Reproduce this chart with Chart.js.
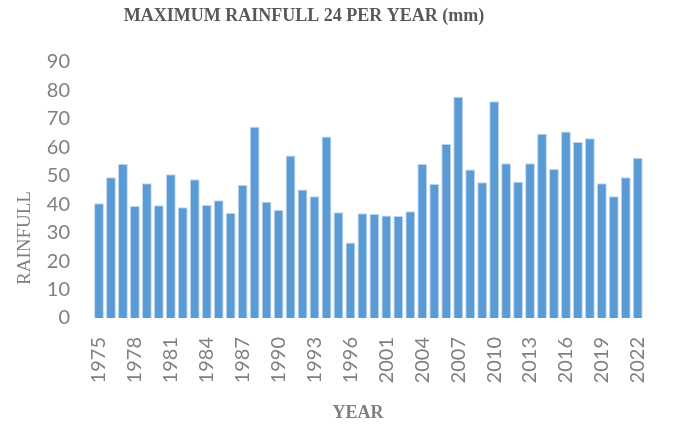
<!DOCTYPE html>
<html>
<head>
<meta charset="utf-8">
<title>Maximum Rainfall 24 per Year</title>
<script src="https://cdn.jsdelivr.net/npm/chart.js@4/dist/chart.umd.min.js"></script>
<style>
  html, body { margin: 0; padding: 0; background: #ffffff; }
  #wrap { position: relative; width: 673px; height: 426px; }
</style>
</head>
<body>
<div id="wrap"><canvas id="chart" width="673" height="426"></canvas></div>
<script>
// Yearly maximum 24-hour rainfall (mm)
const years = [
  1975, 1976, 1977, 1978, 1979, 1980, 1981, 1982, 1983, 1984, 1985,
  1986, 1987, 1988, 1989, 1990, 1991, 1992, 1993, 1994, 1995, 1996,
  1997, 1998,
  2001, 2002, 2003, 2004, 2005, 2006, 2007, 2008, 2009, 2010, 2011,
  2012, 2013, 2014, 2015, 2016, 2017, 2018, 2019, 2020, 2021, 2022
];
const rainfall = [
  40.3, 49.5, 54.1, 39.4, 47.4, 39.6, 50.5, 38.9, 48.8, 39.7, 41.4,
  36.9, 46.8, 67.2, 40.9, 38.0, 57.1, 45.2, 42.8, 63.8, 37.2, 26.5,
  36.8, 36.6,
  36.0, 35.9, 37.5, 54.1, 47.1, 61.2, 77.8, 52.2, 47.7, 76.2, 54.4,
  47.9, 54.4, 64.8, 52.4, 65.6, 61.9, 63.2, 47.4, 42.8, 49.5, 56.3
];
const yTicks = [0, 10, 20, 30, 40, 50, 60, 70, 80, 90];
const chartTitle = 'MAXIMUM RAINFULL 24 PER YEAR (mm)';
const xTitle = 'YEAR';
const yTitle = 'RAINFULL';

// Draws the chart heading and both axis captions as canvas text
const captions = {
  id: 'captions',
  afterDraw(chart) {
    const ctx = chart.ctx;
    ctx.save();
    ctx.textAlign = 'center';
    ctx.textBaseline = 'middle';

    ctx.fillStyle = '#595959';
    ctx.font = 'bold 18px "Liberation Serif", "Times New Roman", serif';
    ctx.fillText(chartTitle, 304, 16);

    ctx.fillStyle = '#7f7f7f';
    ctx.font = 'bold 18px "Liberation Serif", "Times New Roman", serif';
    ctx.fillText(xTitle, 358, 413);

    ctx.translate(25, 238);
    ctx.rotate(-Math.PI / 2);
    ctx.font = '19px "Liberation Serif", "Times New Roman", serif';
    ctx.fillText(yTitle, 0, 0);
    ctx.restore();
  }
};

new Chart(document.getElementById('chart'), {
  type: 'bar',
  data: {
    labels: years.map(String),
    datasets: [{
      data: rainfall,
      backgroundColor: '#5b9bd5',
      borderColor: 'rgba(180, 210, 238, 0.9)',
      borderWidth: 1,
      barPercentage: 0.82,
      categoryPercentage: 1.0
    }]
  },
  options: {
    responsive: false,
    animation: false,
    devicePixelRatio: 1,
    layout: { padding: { left: 0, right: 20, top: 62, bottom: 0 } },
    plugins: {
      legend: { display: false },
      title: { display: false },
      tooltip: { enabled: false }
    },
    scales: {
      x: {
        grid: { display: false },
        border: { display: false },
        afterFit(scale) { scale.height = 108; },
        ticks: {
          autoSkip: false,
          minRotation: 90,
          maxRotation: 90,
          padding: 11,
          color: '#808080',
          font: { family: 'Lato, "Open Sans", sans-serif', size: 20 },
          callback(value, index) {
            return index % 3 === 0 ? this.getLabelForValue(value) : '';
          }
        }
      },
      y: {
        min: yTicks[0],
        max: yTicks[yTicks.length - 1],
        grid: { display: false },
        border: { display: false },
        afterFit(scale) { scale.width = 93; },
        afterBuildTicks(scale) { scale.ticks = yTicks.map(v => ({ value: v })); },
        ticks: {
          padding: 15,
          color: '#808080',
          font: { family: 'Lato, "Open Sans", sans-serif', size: 20 }
        }
      }
    }
  },
  plugins: [captions]
});
</script>
</body>
</html>
